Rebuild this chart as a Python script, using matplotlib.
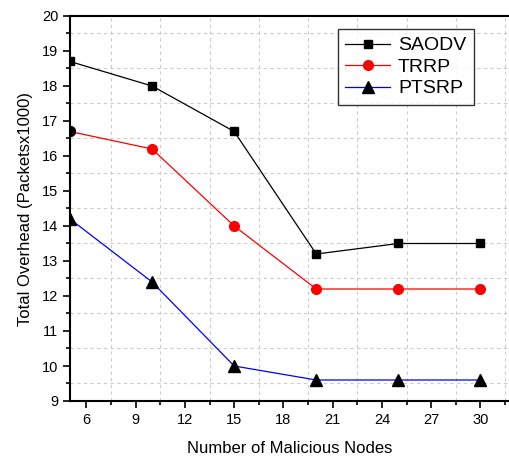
import matplotlib.pyplot as plt
from matplotlib.ticker import MultipleLocator

plt.rcParams['font.family'] = ['Liberation Sans', 'DejaVu Sans']

nodes = [5, 10, 15, 20, 25, 30]
saodv = [18.7, 18.0, 16.7, 13.2, 13.5, 13.5]
trrp = [16.7, 16.2, 14.0, 12.2, 12.2, 12.2]
ptsrp = [14.2, 12.4, 10.0, 9.6, 9.6, 9.6]

fig = plt.figure(figsize=(5.1, 4.59), dpi=100)
ax = fig.add_axes([70 / 510, 58 / 459, 440 / 510, 385 / 459])

ax.plot(nodes, saodv, color='black', lw=0.9, marker='s', ms=6,
        mfc='black', mec='black', label='SAODV')
ax.plot(nodes, trrp, color='red', lw=0.9, marker='o', ms=7,
        mfc='red', mec='red', label='TRRP')
ax.plot(nodes, ptsrp, color='blue', lw=0.9, marker='^', ms=8,
        mfc='black', mec='black', label='PTSRP')

# first TRRP marker is drawn black in the reference
ax.plot(nodes[:1], trrp[:1], ls='none', marker='o', ms=7, mfc='black', mec='black')

ax.set_xlim(5, 31.8)
ax.set_ylim(9, 20)
ax.set_xticks([6, 9, 12, 15, 18, 21, 24, 27, 30])
ax.xaxis.set_minor_locator(MultipleLocator(1.5))
ax.yaxis.set_major_locator(MultipleLocator(1))
ax.yaxis.set_minor_locator(MultipleLocator(0.5))

ax.grid(which='minor', ls=(0, (3, 3)), color='#cccccc', lw=0.8)
ax.grid(which='major', visible=False)
ax.tick_params(which='major', direction='out', length=5, width=1.2, labelsize=10.5)
ax.tick_params(which='minor', direction='out', length=3, width=1.2)

ax.spines['right'].set_visible(False)
for s in ['left', 'bottom', 'top']:
    ax.spines[s].set_linewidth(1.5)

ax.set_xlabel('Number of Malicious Nodes', fontsize=12, labelpad=10)
ax.set_ylabel('Total Overhead (Packetsx1000)', fontsize=12, labelpad=6)

leg = ax.legend(loc='upper right', fontsize=14, frameon=True, fancybox=False,
                edgecolor='black', handlelength=2.3, borderpad=0.4,
                labelspacing=0.2, handletextpad=0.4, borderaxespad=0)
leg.set_bbox_to_anchor(((474 - 70) / 440, (401 - 29) / 385), transform=ax.transAxes)
leg.get_frame().set_linewidth(1.0)

fig.savefig('out.png', dpi=100)
